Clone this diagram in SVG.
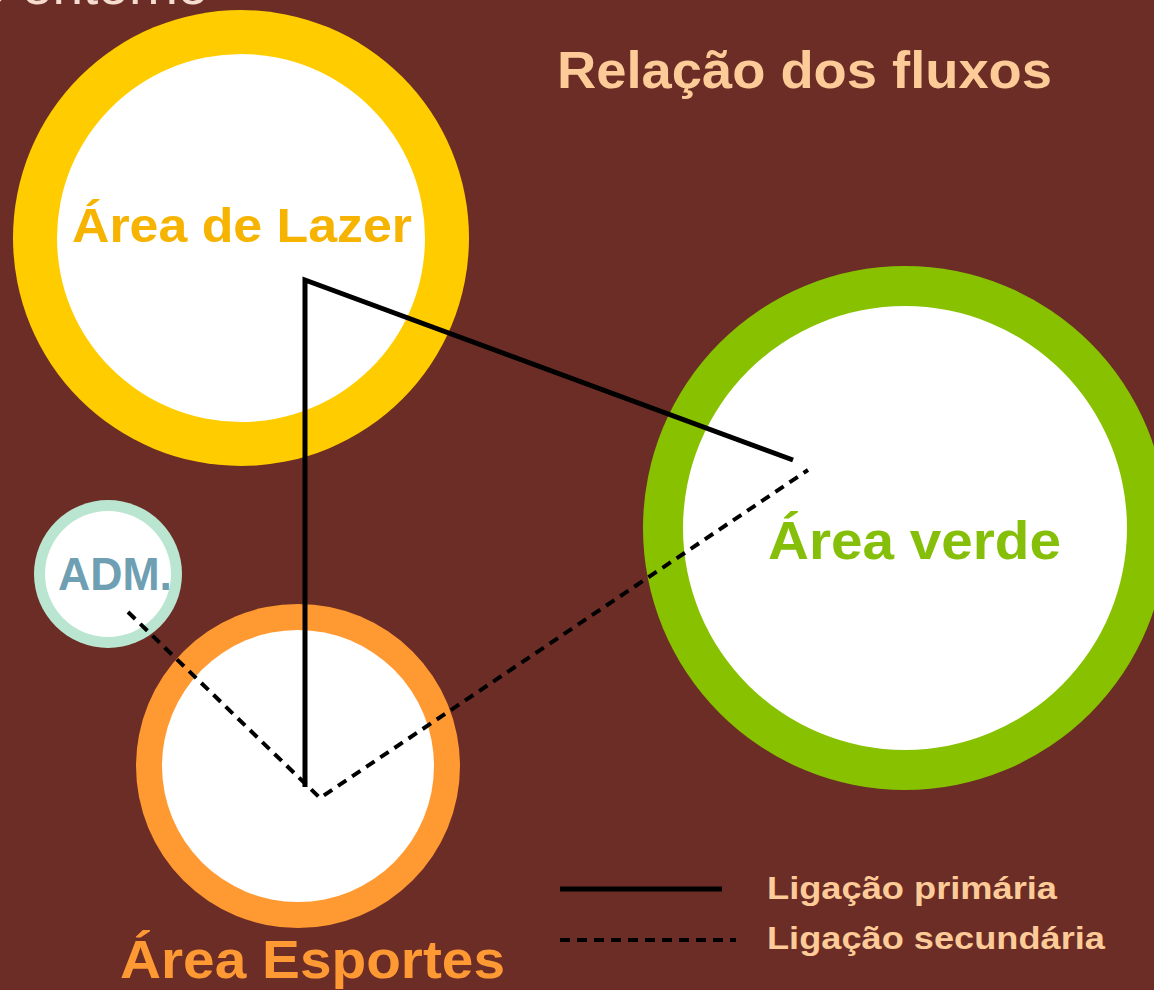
<svg xmlns="http://www.w3.org/2000/svg" width="1154" height="990" viewBox="0 0 1154 990">
  <style>
    .lbl { font-family: "Liberation Sans", Arial, sans-serif; font-weight: bold; }
    .peach { fill: #fccb98; }
    .solid { fill: none; stroke: #000; stroke-width: 5; stroke-linejoin: miter; }
    .dash { fill: none; stroke: #000; stroke-width: 4; stroke-dasharray: 10 7; }
    .inner { fill: #ffffff; }
  </style>
  <rect x="0" y="0" width="1154" height="990" fill="#6c2d26"/>

  <text x="-24" y="4" font-family="Liberation Sans, Arial, sans-serif" font-size="55" fill="#f5dccf">o entorno</text>

  <text id="title" class="lbl peach" x="557" y="88" font-size="52" textLength="495" lengthAdjust="spacingAndGlyphs">Relação dos fluxos</text>

  <g id="node-lazer">
    <circle cx="241" cy="238" r="228" fill="#ffcc00"/>
    <circle class="inner" cx="241" cy="238" r="184"/>
    <text class="lbl" x="72" y="242" font-size="48" fill="#f6b300" textLength="340" lengthAdjust="spacingAndGlyphs">Área de Lazer</text>
  </g>

  <g id="node-verde">
    <circle cx="905" cy="528" r="262" fill="#88c100"/>
    <circle class="inner" cx="905" cy="528" r="222"/>
    <text class="lbl" x="768" y="559" font-size="53" fill="#86bf0a" textLength="293" lengthAdjust="spacingAndGlyphs">Área verde</text>
  </g>

  <g id="node-esportes">
    <circle cx="298" cy="766" r="162" fill="#ff9a33"/>
    <circle class="inner" cx="298" cy="766" r="136"/>
    <text class="lbl" x="120" y="978" font-size="53" fill="#ff9933" textLength="385" lengthAdjust="spacingAndGlyphs">Área Esportes</text>
  </g>

  <g id="node-adm">
    <circle cx="108" cy="574" r="74" fill="#bae5d0"/>
    <circle class="inner" cx="108" cy="574" r="63"/>
    <text class="lbl" x="58" y="590" font-size="46" fill="#6e9fb2" textLength="114" lengthAdjust="spacingAndGlyphs">ADM.</text>
  </g>

  <g id="connectors">
    <polyline class="solid" points="305,787 305,280 793,460"/>
    <polyline class="dash" points="128,612 320,798 808,470"/>
  </g>

  <g id="legend">
    <line class="solid" x1="560" y1="889" x2="722" y2="889" stroke-width="4"/>
    <line class="dash" x1="560" y1="940" x2="736" y2="940" stroke-dasharray="9 8.5"/>
    <text class="lbl peach" x="767" y="899" font-size="32" textLength="290" lengthAdjust="spacingAndGlyphs">Ligação primária</text>
    <text class="lbl peach" x="767" y="949" font-size="32" textLength="338" lengthAdjust="spacingAndGlyphs">Ligação secundária</text>
  </g>
</svg>
